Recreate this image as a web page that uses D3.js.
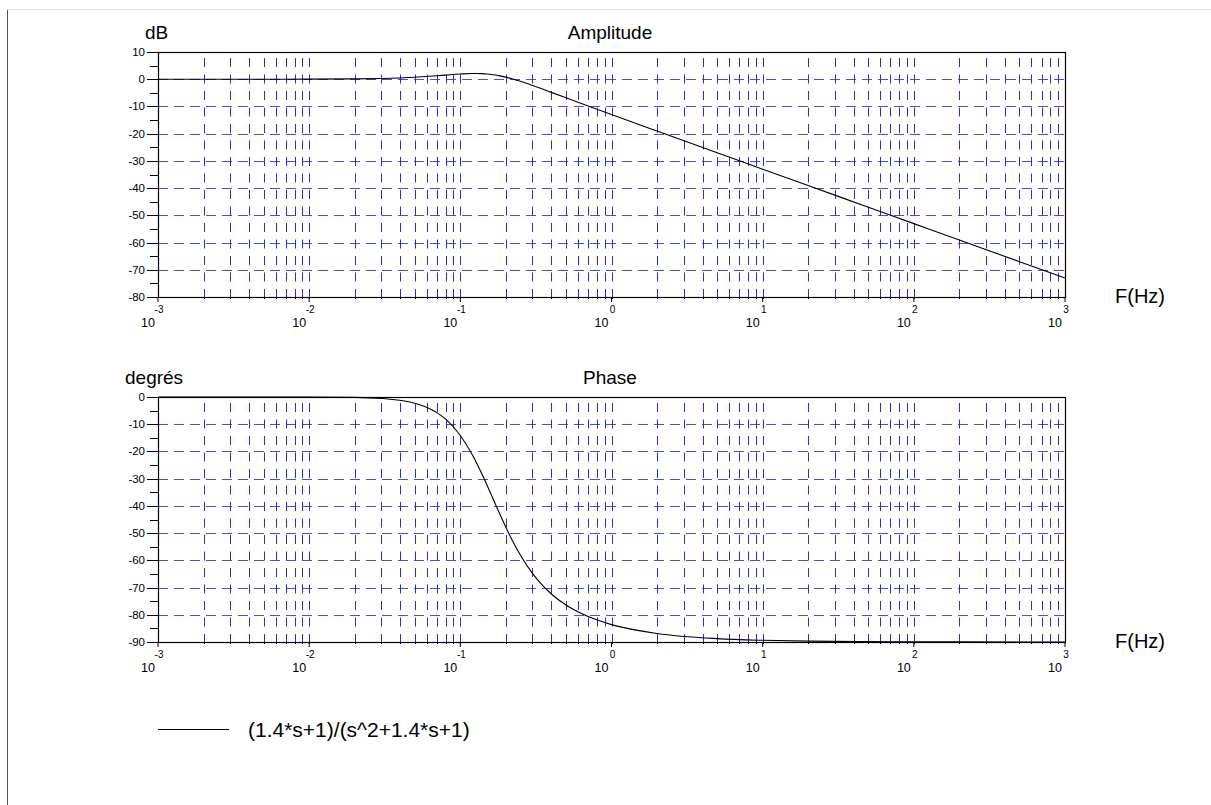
<!DOCTYPE html>
<html>
<head>
<meta charset="utf-8">
<script src="https://d3js.org/d3.v7.min.js"></script>
<style>
body { margin: 0; background: #fff; }
text { font-family: "Liberation Sans", Arial, sans-serif; fill: #000; }
</style>
</head>
<body>
<script>
// frequencies (Hz)
var freqs = [0.001, 0.002, 0.005, 0.01, 0.02, 0.03, 0.05, 0.07, 0.08, 0.1,
             0.12, 0.13, 0.14, 0.15, 0.17, 0.18, 0.2, 0.22, 0.25, 0.3,
             0.35, 0.4, 0.5, 0.7, 1, 2, 5, 10, 20, 50,
             100, 200, 500, 1000];
// amplitude in dB
var ampDb = [0, 0, 0.01, 0.03, 0.13, 0.29, 0.74, 1.27, 1.52, 1.92,
             2.11, 2.11, 2.06, 1.94, 1.57, 1.33, 0.77, 0.16, -0.78, -2.29,
             -3.63, -4.83, -6.83, -9.83, -12.98, -19.05, -27.02, -33.04, -39.06, -47.02,
             -53.04, -59.06, -67.02, -73.04];
// phase in degrees
var phaseDeg = [0, 0, 0, -0.02, -0.15, -0.52, -2.27, -5.74, -8.14, -14.14,
                -21.22, -24.94, -28.67, -32.32, -39.15, -42.28, -47.83, -52.53, -58.16, -64.81,
                -69.24, -72.37, -76.43, -80.66, -83.61, -86.85, -88.75, -89.37, -89.69, -89.87,
                -89.94, -89.97, -89.99, -89.99];

var decades = [-3, -2, -1, 0, 1, 2, 3];
var ampTicks = [10, 0, -10, -20, -30, -40, -50, -60, -70, -80];
var phaseTicks = [0, -10, -20, -30, -40, -50, -60, -70, -80, -90];
var legendLabel = "(1.4*s+1)/(s^2+1.4*s+1)";

var W = 1211, H = 805;
var svg = d3.select("body").append("svg")
    .attr("width", W)
    .attr("height", H);

// window frame
svg.append("line").attr("x1", 7).attr("x2", W).attr("y1", 9.5).attr("y2", 9.5)
    .attr("stroke", "#e4e4e4").attr("stroke-width", 1);
svg.append("line").attr("x1", 7.5).attr("x2", 7.5).attr("y1", 10).attr("y2", H)
    .attr("stroke", "#555").attr("stroke-width", 1);

var x = d3.scaleLog().domain([1e-3, 1e3]).range([158, 1065]);

var gridColor = "#2a2ae0";

function panel(top, yDomain, ticks, values, unit, title) {
    var y = d3.scaleLinear().domain(yDomain).range([top + 245, top]);
    var g = svg.append("g");
    var x0 = x.range()[0], x1 = x.range()[1];
    var y0 = y.range()[1], y1 = y.range()[0];

    // horizontal grid
    g.selectAll(".hg").data(ticks.slice(1, -1)).enter().append("line")
        .attr("x1", x0).attr("x2", x1)
        .attr("y1", function(d) { return Math.round(y(d)) + 0.5; })
        .attr("y2", function(d) { return Math.round(y(d)) + 0.5; })
        .attr("stroke", gridColor).attr("stroke-opacity", 0.85)
        .attr("stroke-dasharray", "10,6");

    // vertical grid at every log subdivision
    var vg = [];
    decades.slice(0, -1).forEach(function(k) {
        for (var m = 1; m < 10; m++) {
            if (m == 1 && k == -3) continue;
            vg.push(m * Math.pow(10, k));
        }
    });
    g.selectAll(".vg").data(vg).enter().append("line")
        .attr("x1", function(d) { return Math.round(x(d)) + 0.5; })
        .attr("x2", function(d) { return Math.round(x(d)) + 0.5; })
        .attr("y1", y0).attr("y2", y1)
        .attr("stroke", gridColor)
        .attr("stroke-dasharray", "9,7.5")
        .attr("stroke-dashoffset", 10.5);

    // box
    g.append("rect").attr("x", x0 + 0.5).attr("y", y0 + 0.5)
        .attr("width", x1 - x0).attr("height", y1 - y0)
        .attr("fill", "none").attr("stroke", "#000").attr("stroke-width", 1.2);

    // y ticks: major and half
    ticks.forEach(function(t, i) {
        var yy = Math.round(y(t)) + 0.5;
        g.append("line").attr("x1", x0 - 11).attr("x2", x0).attr("y1", yy).attr("y2", yy)
            .attr("stroke", "#000");
        g.append("text").attr("x", x0 - 13).attr("y", yy)
            .attr("text-anchor", "end").attr("dominant-baseline", "middle")
            .style("font-size", "11.5px").text(t);
        if (i < ticks.length - 1) {
            var ym = Math.round(y(t - 5)) + 0.5;
            g.append("line").attr("x1", x0 - 8).attr("x2", x0).attr("y1", ym).attr("y2", ym)
                .attr("stroke", "#000");
        }
    });

    // x ticks
    g.selectAll(".xt").data(vg).enter().append("line")
        .attr("x1", function(d) { return Math.round(x(d)) + 0.5; })
        .attr("x2", function(d) { return Math.round(x(d)) + 0.5; })
        .attr("y1", y1).attr("y2", y1 + 2).attr("stroke", "#000");
    decades.forEach(function(k) {
        var xx = x(Math.pow(10, k));
        g.append("line").attr("x1", xx).attr("x2", xx).attr("y1", y1).attr("y2", y1 + 5)
            .attr("stroke", "#000");
        g.append("text").attr("x", xx + 1).attr("y", y1 + 16)
            .attr("text-anchor", "middle").style("font-size", "10px").text(k);
        g.append("text").attr("x", xx - 3).attr("y", y1 + 30)
            .attr("text-anchor", "end").style("font-size", "12.5px").text("10");
    });

    // curve
    var pts = freqs.map(function(f, i) { return [f, values[i]]; });
    g.append("path").datum(pts)
        .attr("fill", "none").attr("stroke", "#000").attr("stroke-width", 1.1)
        .attr("d", d3.line()
            .x(function(d) { return x(d[0]); })
            .y(function(d) { return y(d[1]); })
            .curve(d3.curveMonotoneX));

    // labels
    g.append("text").attr("x", unit == "dB" ? 145 : 125).attr("y", y0 - 13)
        .style("font-size", "19px").text(unit);
    g.append("text").attr("x", 610).attr("y", y0 - 13).attr("text-anchor", "middle")
        .style("font-size", "19px").text(title);
    g.append("text").attr("x", 1115).attr("y", y1 + 6)
        .style("font-size", "20px").text("F(Hz)");
}

panel(52, [-80, 10], ampTicks, ampDb, "dB", "Amplitude");
panel(397, [-90, 0], phaseTicks, phaseDeg, "degrés", "Phase");

// legend
svg.append("line").attr("x1", 158).attr("x2", 229).attr("y1", 729.5).attr("y2", 729.5)
    .attr("stroke", "#000");
svg.append("text").attr("x", 248).attr("y", 736.5)
    .style("font-size", "21px").text(legendLabel);
</script>
</body>
</html>
